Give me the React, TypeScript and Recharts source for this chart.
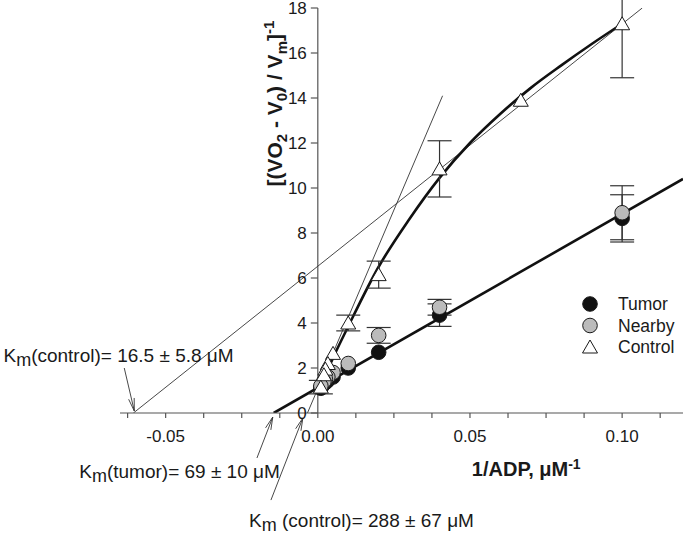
import {
  ComposedChart,
  XAxis,
  YAxis,
  Line,
  Scatter,
  ErrorBar,
  ReferenceLine,
  ReferenceDot,
  Legend,
} from "recharts"

const FONT = "'Liberation Sans', Arial, Helvetica, sans-serif"
const INK = "#1a1a1a"
const AXIS = "#555"

// measured points, x = 1/ADP (µM^-1)
const tumorX = [0.1, 0.04, 0.02, 0.01, 0.005, 0.0033, 0.0025, 0.002, 0.001]
const tumorY = [8.65, 4.35, 2.7, 2.0, 1.6, 1.45, 1.35, 1.3, 1.1]
const tumorErr = [1.05, 0.5, 0, 0, 0, 0, 0, 0, 0]

const nearbyX = [0.1, 0.04, 0.02, 0.01, 0.005, 0.0033, 0.0025, 0.002, 0.001]
const nearbyY = [8.9, 4.7, 3.45, 2.2, 1.8, 1.6, 1.5, 1.4, 1.2]
const nearbyErr = [1.2, 0.35, 0.35, 0, 0, 0, 0, 0, 0]

const controlX = [0.1, 0.0667, 0.04, 0.02, 0.01, 0.005, 0.0033, 0.0025, 0.002, 0.001]
const controlY = [17.3, 13.9, 10.85, 6.15, 4.0, 2.65, 2.2, 1.95, 1.7, 1.15]
const controlErr = [2.4, 0, 1.25, 0.6, 0.35, 0, 0, 0, 0, 0.3]

// fitted lines
const tumorFitX = [-0.0145, 0.12]
const tumorFitY = [0, 10.4]
const controlFitX = [0.001, 0.005, 0.01, 0.02, 0.03, 0.04, 0.05, 0.06, 0.07, 0.08, 0.09, 0.1]
const controlFitY = [1.2, 2.45, 3.85, 6.5, 8.6, 10.45, 12.0, 13.3, 14.45, 15.45, 16.4, 17.3]
const lowKmX = [-0.0606, 0.1066]
const lowKmY = [0, 18]
const highKmX = [-0.0034, 0.041]
const highKmY = [0, 14.1]

const xTicks = [
  -0.0625, -0.05, -0.0375, -0.025, -0.0125, 0, 0.0125, 0.025, 0.0375, 0.05, 0.0625, 0.075,
  0.0875, 0.1, 0.1125,
]
const yTicks = [0, 2, 4, 6, 8, 10, 12, 14, 16, 18]

const seriesNames = ["Tumor", "Nearby", "Control"]

const zip = (xs: number[], ys: number[], es?: number[]) =>
  xs.map((x, i) => ({ x, y: ys[i], e: es ? es[i] : 0 }))

const tumorData = zip(tumorX, tumorY, tumorErr)
const nearbyData = zip(nearbyX, nearbyY, nearbyErr)
const controlData = zip(controlX, controlY, controlErr)

const circle = (fill: string) => (p: any) => (
  <circle cx={p.cx} cy={p.cy} r={7.3} fill={fill} stroke={INK} strokeWidth={1} />
)
const triangle = (p: any) => (
  <path
    d={`M${p.cx},${p.cy - 7} L${p.cx + 7.5},${p.cy + 6} L${p.cx - 7.5},${p.cy + 6} Z`}
    fill="#fff"
    stroke={INK}
    strokeWidth={1}
  />
)

const arrow = (p: any) => {
  const { x1, y1, x2, y2 } = p
  const a = Math.atan2(y2 - y1, x2 - x1)
  const len = 13
  const sp = 0.22
  const h1 = [x2 - len * Math.cos(a - sp), y2 - len * Math.sin(a - sp)]
  const h2 = [x2 - len * Math.cos(a + sp), y2 - len * Math.sin(a + sp)]
  return (
    <g stroke="#333" strokeWidth={0.9} fill="none">
      <line x1={x1} y1={y1} x2={x2} y2={y2} />
      <polyline points={`${h1[0]},${h1[1]} ${x2},${y2} ${h2[0]},${h2[1]}`} />
    </g>
  )
}

const KmLabel = (rest: string) => (p: any) => (
  <text x={p.cx} y={p.cy} fontFamily={FONT} fontSize={19} fill={INK}>
    K
    <tspan dy={4} fontSize={18}>m</tspan>
    <tspan dy={-4}>{rest}</tspan>
  </text>
)

const yTick = (v: number) => (p: any) => (
  <g>
    <line x1={p.cx - 7} y1={p.cy} x2={p.cx} y2={p.cy} stroke={AXIS} strokeWidth={1.2} />
    <text
      x={p.cx - 11}
      y={p.cy}
      dy="0.36em"
      textAnchor="end"
      fontFamily={FONT}
      fontSize={17}
      fill={INK}
    >
      {v}
    </text>
  </g>
)

const yTitle = (p: any) => (
  <text
    x={p.cx}
    y={p.cy}
    transform={`rotate(-90 ${p.cx} ${p.cy})`}
    textAnchor="middle"
    fontFamily={FONT}
    fontSize={21}
    fontWeight="bold"
    fill={INK}
  >
    [(VO<tspan dy={5} fontSize={15}>2</tspan>
    <tspan dy={-5}> - V</tspan>
    <tspan dy={5} fontSize={15}>0</tspan>
    <tspan dy={-5}>) / V</tspan>
    <tspan dy={5} fontSize={15}>m</tspan>
    <tspan dy={-5}>]</tspan>
    <tspan dy={-8} fontSize={15}>-1</tspan>
  </text>
)

const xTitle = (p: any) => (
  <text
    x={p.cx}
    y={p.cy}
    textAnchor="middle"
    fontFamily={FONT}
    fontSize={20}
    fontWeight="bold"
    fill={INK}
  >
    1/ADP, μM<tspan dy={-7} fontSize={14}>-1</tspan>
  </text>
)

const LegendBox = () => (
  <svg width={100} height={70} style={{ display: "block" }}>
    {seriesNames.map((name, i) => {
      const cy = 9 + i * 21.5
      return (
        <g key={name}>
          {i === 0 && <circle cx={8} cy={cy} r={7.3} fill="#111" stroke={INK} />}
          {i === 1 && <circle cx={8} cy={cy} r={7.3} fill="#bbb" stroke={INK} />}
          {i === 2 && triangle({ cx: 8, cy })}
          <text x={36} y={cy} dy="0.36em" fontFamily={FONT} fontSize={17.5} fill={INK}>
            {name}
          </text>
        </g>
      )
    })}
  </svg>
)

const fmtX = (v: number) =>
  Math.abs(v * 20 - Math.round(v * 20)) < 1e-6 ? v.toFixed(2) : ""

export default function App() {
  return (
    <div style={{ position: "absolute", left: 0, top: 0, background: "#fff" }}>
      <ComposedChart
        width={683}
        height={537}
        margin={{ top: 8, right: 0, bottom: 94, left: 120 }}
      >
        <XAxis
          type="number"
          dataKey="x"
          domain={[-0.065, 0.12]}
          ticks={xTicks}
          tickFormatter={fmtX}
          interval={0}
          height={30}
          stroke={AXIS}
          strokeWidth={1.2}
          tickSize={5}
          tickMargin={12}
          tick={{ fontFamily: FONT, fontSize: 17, fill: INK }}
          allowDataOverflow
        />
        <YAxis type="number" dataKey="y" domain={[0, 18]} hide allowDataOverflow />

        <ReferenceLine x={0} stroke={AXIS} strokeWidth={1.2} />

        <Line
          data={zip(lowKmX, lowKmY)}
          dataKey="y"
          stroke="#333"
          strokeWidth={0.9}
          dot={false}
          activeDot={false}
          legendType="none"
          isAnimationActive={false}
        />
        <Line
          data={zip(highKmX, highKmY)}
          dataKey="y"
          stroke="#333"
          strokeWidth={0.9}
          dot={false}
          activeDot={false}
          legendType="none"
          isAnimationActive={false}
        />
        <Line
          data={zip(tumorFitX, tumorFitY)}
          dataKey="y"
          stroke="#111"
          strokeWidth={2.6}
          dot={false}
          activeDot={false}
          legendType="none"
          isAnimationActive={false}
        />
        <Line
          data={zip(controlFitX, controlFitY)}
          dataKey="y"
          type="monotone"
          stroke="#111"
          strokeWidth={2.6}
          dot={false}
          activeDot={false}
          legendType="none"
          isAnimationActive={false}
        />

        <Scatter name="Tumor" data={tumorData} shape={circle("#111")} isAnimationActive={false}>
          <ErrorBar dataKey="e" direction="y" width={12} stroke="#333" strokeWidth={1.2} />
        </Scatter>
        <Scatter name="Nearby" data={nearbyData} shape={circle("#bbb")} isAnimationActive={false}>
          <ErrorBar dataKey="e" direction="y" width={12} stroke="#333" strokeWidth={1.2} />
        </Scatter>
        <Scatter name="Control" data={controlData} shape={triangle} isAnimationActive={false}>
          <ErrorBar dataKey="e" direction="y" width={12} stroke="#333" strokeWidth={1.2} />
        </Scatter>

        {yTicks.map((v) => (
          <ReferenceDot key={`yt${v}`} x={0} y={v} ifOverflow="visible" shape={yTick(v)} />
        ))}

        <ReferenceDot x={-0.0118} y={13.75} ifOverflow="visible" shape={yTitle} />
        <ReferenceDot x={0.0685} y={-2.8} ifOverflow="visible" shape={xTitle} />

        <ReferenceDot
          x={-0.1033}
          y={2.25}
          ifOverflow="visible"
          shape={KmLabel("(control)= 16.5 ± 5.8 μM")}
        />
        <ReferenceDot
          x={-0.0784}
          y={-2.9}
          ifOverflow="visible"
          shape={KmLabel("(tumor)= 69 ± 10 μM")}
        />
        <ReferenceDot
          x={-0.0226}
          y={-5.05}
          ifOverflow="visible"
          shape={KmLabel(" (control)= 288 ± 67 μM")}
        />

        <ReferenceLine
          segment={[
            { x: -0.0636, y: 2.0 },
            { x: -0.0603, y: 0.09 },
          ]}
          ifOverflow="visible"
          shape={arrow}
        />
        <ReferenceLine
          segment={[
            { x: -0.02, y: -2.0 },
            { x: -0.0148, y: -0.18 },
          ]}
          ifOverflow="visible"
          shape={arrow}
        />
        <ReferenceLine
          segment={[
            { x: -0.0154, y: -3.87 },
            { x: -0.0049, y: -0.22 },
          ]}
          ifOverflow="visible"
          shape={arrow}
        />

        <Legend
          layout="vertical"
          align="center"
          verticalAlign="middle"
          wrapperStyle={{ left: 582, top: 295, width: 100 }}
          content={() => <LegendBox />}
        />
      </ComposedChart>
    </div>
  )
}
